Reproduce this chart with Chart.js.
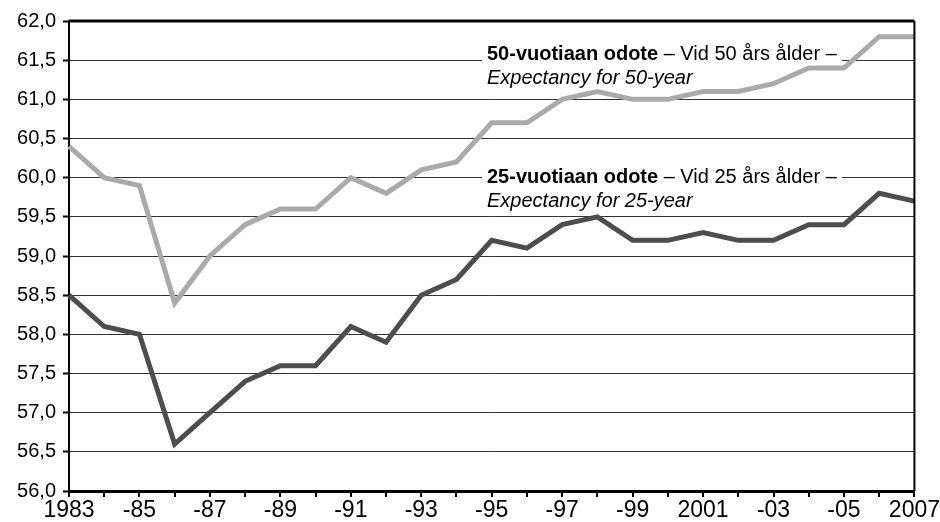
<!DOCTYPE html>
<html>
<head>
<meta charset="utf-8">
<script src="https://cdn.jsdelivr.net/npm/chart.js@4"></script>
<style>
  html, body { margin: 0; padding: 0; background: #fff; }
  #wrap { width: 940px; height: 522px; }
</style>
</head>
<body>
<div id="wrap"><canvas id="graf"></canvas></div>
<script>
// Vuodet ja odotteet
const years = ['1983','1984','1985','1986','1987','1988','1989','1990','1991','1992','1993','1994',
  '1995','1996','1997','1998','1999','2000','2001','2002','2003','2004','2005','2006','2007'];
const xTickLabels = ['1983','-85','-87','-89','-91','-93','-95','-97','-99','2001','-03','-05','2007'];
const odote50 = [60.4, 60.0, 59.9, 58.4, 59.0, 59.4, 59.6, 59.6, 60.0, 59.8, 60.1, 60.2,
  60.7, 60.7, 61.0, 61.1, 61.0, 61.0, 61.1, 61.1, 61.2, 61.4, 61.4, 61.8, 61.8];
const odote25 = [58.5, 58.1, 58.0, 56.6, 57.0, 57.4, 57.6, 57.6, 58.1, 57.9, 58.5, 58.7,
  59.2, 59.1, 59.4, 59.5, 59.2, 59.2, 59.3, 59.2, 59.2, 59.4, 59.4, 59.8, 59.7];

const notes = [
  { bold: '50-vuotiaan odote', rest: ' – Vid 50 års ålder –', italic: 'Expectancy for 50-year', dy: 19 },
  { bold: '25-vuotiaan odote', rest: ' – Vid 25 års ålder –', italic: 'Expectancy for 25-year', dy: 142 }
];

// Laatikot ja tekstit viivojen alle, kehys päälle
const notesPlugin = {
  id: 'notes',
  beforeDatasetsDraw(chart) {
    const c = chart.ctx;
    const a = chart.chartArea;
    c.save();
    notes.forEach(n => {
      const x = a.left + 418;
      const y = a.top + n.dy;
      c.fillStyle = '#fff';
      c.fillRect(x - 5, y, 360, 52);
      c.fillStyle = '#000';
      c.textBaseline = 'alphabetic';
      c.font = 'bold 20px "Liberation Sans", Arial, sans-serif';
      c.fillText(n.bold, x, y + 20);
      const w = c.measureText(n.bold).width;
      c.font = '20px "Liberation Sans", Arial, sans-serif';
      c.fillText(n.rest, x + w, y + 20);
      c.font = 'italic 20px "Liberation Sans", Arial, sans-serif';
      c.fillText(n.italic, x, y + 44);
    });
    c.restore();
  },
  afterDraw(chart) {
    const c = chart.ctx;
    const a = chart.chartArea;
    c.save();
    c.strokeStyle = '#000';
    c.lineWidth = 3;
    c.beginPath();
    c.moveTo(a.left, a.top);
    c.lineTo(a.right, a.top);
    c.stroke();
    c.lineWidth = 2;
    c.beginPath();
    c.moveTo(a.right, a.top);
    c.lineTo(a.right, a.bottom);
    c.stroke();
    c.restore();
  }
};

new Chart(document.getElementById('graf').getContext('2d'), {
  type: 'line',
  data: {
    labels: years,
    datasets: [
      {
        label: '50-vuotiaan odote',
        data: odote50,
        borderColor: '#aaaaaa',
        borderWidth: 5,
        pointRadius: 0,
        tension: 0
      },
      {
        label: '25-vuotiaan odote',
        data: odote25,
        borderColor: '#4d4d4d',
        borderWidth: 5,
        pointRadius: 0,
        tension: 0
      }
    ]
  },
  options: {
    responsive: true,
    maintainAspectRatio: false,
    animation: false,
    layout: { padding: { top: 21, right: 25, left: 0, bottom: 0 } },
    plugins: {
      legend: { display: false },
      tooltip: { enabled: false }
    },
    scales: {
      x: {
        offset: false,
        afterFit: s => { s.height = 31; },
        grid: { drawOnChartArea: false, drawTicks: true, tickLength: 6, color: '#000', lineWidth: 2 },
        border: { display: true, color: '#000', width: 3 },
        ticks: {
          autoSkip: false,
          maxRotation: 0,
          padding: 0,
          color: '#000',
          font: { family: '"Liberation Sans Narrow", "Liberation Sans", Arial, sans-serif', size: 23 },
          callback: (v, i) => (i % 2 === 0 ? xTickLabels[i / 2] : '')
        }
      },
      y: {
        min: 56,
        max: 62,
        afterFit: s => { s.width = 69; },
        grid: { color: '#333', lineWidth: 1, tickLength: 6, tickColor: '#000', tickWidth: 2 },
        border: { display: true, color: '#000', width: 2 },
        ticks: {
          stepSize: 0.5,
          padding: 7,
          color: '#000',
          font: { family: '"Liberation Sans", Arial, sans-serif', size: 20 },
          callback: v => v.toFixed(1).replace('.', ',')
        }
      }
    }
  },
  plugins: [notesPlugin]
});
</script>
</body>
</html>
